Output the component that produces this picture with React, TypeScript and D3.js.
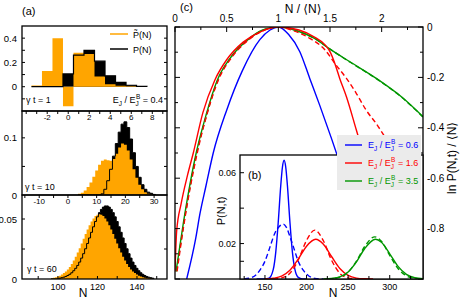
import React from 'react';
import * as d3 from 'd3';

const FONT = "'Liberation Sans', Arial, Helvetica, sans-serif";
const ORANGE = '#ffa500';
const BLUE = '#0000ff';
const RED = '#ff0000';
const GREEN = '#009600';

// ---------- panel (a): gamma t = 1 ----------
const a1N = [-3, -2, -1, 0, 1, 2, 3, 4, 5, 6, 7];
const a1Ptilde = [0.01, 0.13, 0.40, -0.16, 0.28, 0.27, 0.085, 0.02, 0.008, 0.003, 0];
const a1P = [0, 0, 0, 0.105, 0.26, 0.30, 0.21, 0.09, 0.036, 0.012, 0.003];

// ---------- panel (a): gamma t = 10 ----------
const a2N = [4, 5, 6, 7, 8, 9, 10, 11, 12, 13, 14, 15, 16, 17, 18, 19, 20, 21, 22, 23, 24, 25, 26, 27, 28, 29, 30];
const a2Ptilde = [0.002, 0.004, 0.008, 0.014, 0.022, 0.032, 0.043, 0.053, 0.060, 0.062, 0.061, 0.060, 0.063, 0.072, 0.083, 0.090, 0.088, 0.078, 0.062, 0.045, 0.030, 0.018, 0.010, 0.005, 0.002, 0.001, 0];
const a2P = [0, 0, 0, 0, 0, 0, 0, 0, 0.002, 0.010, 0.025, 0.045, 0.068, 0.090, 0.110, 0.124, 0.128, 0.118, 0.098, 0.074, 0.050, 0.031, 0.018, 0.010, 0.005, 0.003, 0.001];

// ---------- panel (a): gamma t = 60 ----------
const a3N = d3.range(97, 149);
const a3Ptilde = [0.0007, 0.0011, 0.0015, 0.0020, 0.0028, 0.0037, 0.0049, 0.0063, 0.0080, 0.0101, 0.0126, 0.0154, 0.0185, 0.0220, 0.0257, 0.0296, 0.0336, 0.0375, 0.0413, 0.0448, 0.0480, 0.0505, 0.0524, 0.0536, 0.0540,
  0.0536, 0.0524, 0.0505, 0.0480, 0.0448, 0.0413, 0.0375, 0.0336, 0.0296, 0.0257, 0.0220, 0.0185, 0.0154, 0.0126, 0.0101, 0.0080, 0.0063, 0.0049, 0.0037, 0.0028, 0.0020, 0.0015, 0.0011, 0.0007, 0.0005, 0.0003, 0.0002];
const a3P = [0, 0, 0, 0, 0.0007, 0.0011, 0.0015, 0.0021, 0.0029, 0.0039, 0.0052, 0.0069, 0.0089, 0.0113, 0.0141, 0.0174, 0.0211, 0.0252, 0.0296, 0.0342, 0.0389, 0.0435, 0.0479, 0.0518, 0.0553, 0.058, 0.0599, 0.0609,
  0.0609, 0.0599, 0.058, 0.0553, 0.0518, 0.0479, 0.0435, 0.0389, 0.0342, 0.0296, 0.0252, 0.0211, 0.0174, 0.0141, 0.0113, 0.0089, 0.0069, 0.0052, 0.0039, 0.0029, 0.0021, 0.0015, 0.0011, 0.0007];

// ---------- panel (c): ln P / <N> vs N/<N> ----------
const cBlueX = [0.113, 0.2, 0.242, 0.3, 0.37, 0.5, 0.65, 0.821, 0.92, 1.0, 1.1, 1.208, 1.304, 1.4, 1.514, 1.62, 1.75];
const cBlueY = [-1.0, -0.84, -0.74, -0.63, -0.5, -0.33, -0.175, -0.05, -0.012, 0, -0.03, -0.098, -0.204, -0.31, -0.442, -0.57, -0.73];
const cRedX = [0.0, 0.016, 0.06, 0.12, 0.177, 0.27, 0.386, 0.5, 0.66, 0.82, 1.0, 1.2, 1.35, 1.45, 1.5, 1.546, 1.594, 1.659, 1.755, 1.82];
const cRedY = [-0.97, -0.81, -0.70, -0.59, -0.50, -0.34, -0.21, -0.13, -0.06, -0.02, 0, -0.012, -0.04, -0.07, -0.098, -0.144, -0.204, -0.277, -0.409, -0.5];
const cRedDashX = [0.02, 0.08, 0.215, 0.3, 0.42, 0.55, 0.7, 0.85, 1.0, 1.15, 1.304, 1.45, 1.546, 1.659, 1.75, 1.85, 1.95, 2.03, 2.1];
const cRedDashY = [-0.97, -0.8, -0.5, -0.36, -0.21, -0.12, -0.055, -0.015, 0, -0.015, -0.045, -0.09, -0.144, -0.204, -0.26, -0.33, -0.385, -0.435, -0.48];
const cGreenX = [0.01, 0.08, 0.205, 0.3, 0.41, 0.55, 0.7, 0.85, 1.0, 1.2, 1.35, 1.5, 1.7, 1.948, 2.2, 2.4];
const cGreenY = [-0.97, -0.78, -0.5, -0.35, -0.21, -0.115, -0.052, -0.012, 0, -0.018, -0.045, -0.088, -0.14, -0.204, -0.28, -0.356];
const cGreenDashX = [0.015, 0.085, 0.21, 0.305, 0.415, 0.55, 0.7, 0.85, 1.0, 1.2, 1.35, 1.5, 1.7, 1.948, 2.2, 2.4];
const cGreenDashY = [-0.97, -0.78, -0.5, -0.35, -0.21, -0.116, -0.053, -0.013, 0, -0.018, -0.045, -0.088, -0.141, -0.205, -0.281, -0.357];

// ---------- inset (b): P(N,t) vs N ----------
const bBlueN = [140, 150, 155, 160, 163, 166, 169, 171, 173, 175, 177, 180, 183, 186, 190, 195, 200];
const bBlueP = [0, 0, 0.0005, 0.0054, 0.0152, 0.0323, 0.0528, 0.0631, 0.067, 0.0631, 0.0528, 0.0323, 0.0152, 0.0054, 0.0009, 0, 0];
const bBlueDashN = [125, 135, 144, 150, 156, 162, 168, 172, 176, 180, 185, 190, 196, 202, 210, 220];
const bBlueDashP = [0, 0.001, 0.005, 0.010, 0.018, 0.026, 0.030, 0.031, 0.029, 0.024, 0.017, 0.010, 0.005, 0.002, 0.0003, 0];
const bRedN = [150, 160, 170, 180, 190, 200, 211, 220, 230, 240, 250, 260, 270, 280];
const bRedP = [0, 0.0004, 0.0016, 0.0049, 0.0112, 0.0185, 0.0224, 0.0197, 0.0127, 0.0059, 0.0020, 0.0005, 0.0001, 0];
const bRedDashN = [160, 170, 180, 190, 200, 210, 220, 230, 240, 250, 260];
const bRedDashP = [0, 0.0006, 0.0032, 0.0107, 0.0218, 0.0276, 0.0218, 0.0107, 0.0032, 0.0006, 0];
const bGreenN = [220, 230, 240, 250, 260, 270, 283, 290, 300, 310, 320, 330, 340];
const bGreenP = [0, 0.0003, 0.0012, 0.0040, 0.0097, 0.0172, 0.0224, 0.0207, 0.0142, 0.0071, 0.0026, 0.0007, 0.0001];
const bGreenDashN = [225, 240, 250, 260, 270, 282, 290, 300, 310, 320, 330, 340];
const bGreenDashP = [0, 0.0010, 0.0039, 0.0101, 0.0184, 0.0238, 0.0213, 0.0134, 0.0059, 0.0018, 0.0004, 0.0001];

const legendLabels = ['0.6', '1.6', '3.5'];
const legendColors = [BLUE, RED, GREEN];

function histPaths(N: number[], V: number[], sx: any, sy: any) {
  const pts: [number, number][] = [[N[0] - 0.5, 0]];
  N.forEach((n, i) => {
    pts.push([n - 0.5, V[i]]);
    pts.push([n + 0.5, V[i]]);
  });
  pts.push([N[N.length - 1] + 0.5, 0]);
  const area = d3.area<[number, number]>().x(d => sx(d[0])).y0(sy(0)).y1(d => sy(d[1]))(pts) || '';
  const line = d3.line<[number, number]>().x(d => sx(d[0])).y(d => sy(d[1]))(pts) || '';
  return { area, line };
}

function curve(xs: number[], ys: number[], sx: any, sy: any) {
  const pts = xs.map((x, i) => [x, ys[i]] as [number, number]);
  return d3.line<[number, number]>().x(d => sx(d[0])).y(d => sy(d[1])).curve(d3.curveMonotoneX)(pts) || '';
}

function EJ({ x, y, val, color, size, anchor }: any) {
  const s = size * 0.72;
  return (
    <text x={x} y={y} fill={color} fontSize={size} fontFamily={FONT} textAnchor={anchor || 'start'}>
      {'E'}
      <tspan dy={2.5} fontSize={s}>J</tspan>
      <tspan dy={-2.5}>{' / E'}</tspan>
      <tspan dy={2.5} fontSize={s}>J</tspan>
      <tspan dx={-s * 0.45} dy={-7} fontSize={s}>B</tspan>
      <tspan dy={4.5}>{' = ' + val}</tspan>
    </text>
  );
}

const AB = "'DejaVu Sans', sans-serif";

export default function App() {
  const aL = 22, aR = 167;
  const a1T = 26, a1B = 111, a2B = 195, a3B = 279;
  const sx1 = d3.scaleLinear([-4.4, 9.4], [aL, aR]);
  const sy1 = d3.scaleLinear([-0.2, 0.5], [a1B, a1T]);
  const sx2 = d3.scaleLinear([-16, 34.5], [aL, aR]);
  const sy2 = d3.scaleLinear([0, 0.147], [a2B, a1B]);
  const sx3 = d3.scaleLinear([81.8, 155.2], [aL, aR]);
  const sy3 = d3.scaleLinear([0, 0.07], [a3B, a2B]);

  const h1t = histPaths(a1N, a1Ptilde, sx1, sy1);
  const h1 = histPaths(a1N, a1P, sx1, sy1);
  const h2t = histPaths(a2N, a2Ptilde, sx2, sy2);
  const h2 = histPaths(a2N, a2P, sx2, sy2);
  const h3t = histPaths(a3N, a3Ptilde, sx3, sy3);
  const h3 = histPaths(a3N, a3P, sx3, sy3);

  // panel c
  const cL = 175, cR = 423, cT = 27, cB = 279;
  const sxc = d3.scaleLinear([0, 2.4], [cL, cR]);
  const syc = d3.scaleLinear([-1, 0], [cB, cT]);
  // inset b
  const bL = 240, bT = 155;
  const sxb = d3.scaleLinear([120, 340], [bL, cR]);
  const syb = d3.scaleLinear([0, 0.07], [cB, bT]);

  const tickStroke = { stroke: '#000', strokeWidth: 1 };

  const yTicksA = (sy: any, vals: number[], len = 3) =>
    vals.map((v, i) => (
      <g key={i}>
        <line x1={aL} x2={aL + len} y1={sy(v)} y2={sy(v)} {...tickStroke} />
        <line x1={aR} x2={aR - len} y1={sy(v)} y2={sy(v)} {...tickStroke} />
      </g>
    ));
  const xTicksA = (sx: any, y: number, vals: number[], dir: number, len = 3) =>
    vals.map((v, i) => <line key={i} x1={sx(v)} x2={sx(v)} y1={y} y2={y + dir * len} {...tickStroke} />);

  return (
    <svg width={463} height={300} style={{ position: 'absolute', left: 0, top: 0 }} fontFamily={FONT}>
      <rect x={0} y={0} width={463} height={300} fill="#fff" />
      <defs>
        <clipPath id="c1"><rect x={aL} y={a1T} width={aR - aL} height={a1B - a1T} /></clipPath>
        <clipPath id="c2"><rect x={aL} y={a1B} width={aR - aL} height={a2B - a1B} /></clipPath>
        <clipPath id="c3"><rect x={aL} y={a2B} width={aR - aL} height={a3B - a2B} /></clipPath>
        <clipPath id="cc"><rect x={cL} y={cT} width={cR - cL} height={cB - cT} /></clipPath>
        <clipPath id="cb"><rect x={bL} y={bT} width={cR - bL} height={cB - bT} /></clipPath>
      </defs>

      {/* ---------------- panel (a) ---------------- */}
      <text x={22} y={15} fontSize={11}>(a)</text>

      <g clipPath="url(#c1)">
        <path d={h1.area} fill="#000" />
        <path d={h1t.area} fill={ORANGE} />
        <path d={h1.line} fill="none" stroke="#000" strokeWidth={1.2} />
      </g>
      <g clipPath="url(#c2)">
        <path d={h2.area} fill="#000" />
        <path d={h2t.area} fill={ORANGE} />
        <path d={h2.line} fill="none" stroke="#000" strokeWidth={1} />
      </g>
      <g clipPath="url(#c3)">
        <path d={h3.area} fill="#000" />
        <path d={h3t.area} fill={ORANGE} />
        <path d={h3.line} fill="none" stroke="#000" strokeWidth={1} />
      </g>

      {yTicksA(sy1, [-0.1, 0, 0.1, 0.2, 0.3, 0.4])}
      {yTicksA(sy2, [0.05, 0.1])}
      {yTicksA(sy3, [0.025, 0.05])}
      {xTicksA(sx1, a1B, d3.range(-4, 10), 1)}
      {xTicksA(sx2, a2B, d3.range(-15, 35, 5), 1)}
      {xTicksA(sx3, a3B, d3.range(90, 160, 10), -1)}

      <rect x={aL} y={a1T} width={aR - aL} height={a1B - a1T} fill="none" stroke="#000" strokeWidth={1.3} />
      <rect x={aL} y={a1B} width={aR - aL} height={a2B - a1B} fill="none" stroke="#000" strokeWidth={1.3} />
      <rect x={aL} y={a2B} width={aR - aL} height={a3B - a2B} fill="none" stroke="#000" strokeWidth={1.3} />

      {[0, 0.2, 0.4].map(v => (
        <text key={v} x={17} y={sy1(v) + 3.5} fontSize={9.5} textAnchor="end">{v === 0 ? '0' : String(v)}</text>
      ))}
      {[0, 0.1].map(v => (
        <text key={v} x={17} y={sy2(v) + 3.5} fontSize={9.5} textAnchor="end">{v === 0 ? '0' : String(v)}</text>
      ))}
      {[0, 0.05].map(v => (
        <text key={v} x={17} y={sy3(v) + 3.5} fontSize={9.5} textAnchor="end">{v === 0 ? '0' : String(v)}</text>
      ))}
      {[-2, 0, 2, 4, 6, 8].map(v => (
        <text key={v} x={sx1(v)} y={120} fontSize={8} textAnchor="middle">{String(v)}</text>
      ))}
      {[-10, 0, 10, 20, 30].map(v => (
        <text key={v} x={sx2(v)} y={204} fontSize={8} textAnchor="middle">{String(v)}</text>
      ))}
      {[100, 120, 140].map(v => (
        <text key={v} x={sx3(v)} y={290} fontSize={9} textAnchor="middle">{String(v)}</text>
      ))}
      <text x={83} y={297} fontSize={12} textAnchor="middle">N</text>

      <line x1={110} x2={128} y1={34} y2={34} stroke={ORANGE} strokeWidth={1.5} />
      <text x={133} y={37.5} fontSize={9}>P̃(N)</text>
      <line x1={110} x2={128} y1={49} y2={49} stroke="#000" strokeWidth={1.5} />
      <text x={133} y={52.5} fontSize={9}>P(N)</text>

      <text x={26} y={103} fontSize={9}>γ t = 1</text>
      <EJ x={163} y={103} val="0.4" color="#000" size={9} anchor="end" />
      <text x={25} y={190} fontSize={9}>γ t = 10</text>
      <text x={27} y={272} fontSize={9}>γ t = 60</text>

      {/* ---------------- panel (c) ---------------- */}
      <g clipPath="url(#cc)" fill="none" strokeWidth={1.4}>
        <path d={curve(cBlueX, cBlueY, sxc, syc)} stroke={BLUE} />
        <path d={curve(cGreenDashX, cGreenDashY, sxc, syc)} stroke={GREEN} strokeDasharray="5,3" />
        <path d={curve(cGreenX, cGreenY, sxc, syc)} stroke={GREEN} />
        <path d={curve(cRedDashX, cRedDashY, sxc, syc)} stroke={RED} strokeDasharray="5,3" />
        <path d={curve(cRedX, cRedY, sxc, syc)} stroke={RED} />
      </g>

      {d3.range(0, 2.41, 0.25).map((v, i) => (
        <line key={'tt' + i} x1={sxc(v)} x2={sxc(v)} y1={cT} y2={cT + (i % 2 === 0 ? 5 : 3)} {...tickStroke} />
      ))}
      {d3.range(0, 11).map(i => {
        const v = -i / 10;
        const len = i % 2 === 0 ? 5 : 3;
        return (
          <g key={'yt' + i}>
            <line x1={cL} x2={cL + len} y1={syc(v)} y2={syc(v)} {...tickStroke} />
            <line x1={cR} x2={cR - len} y1={syc(v)} y2={syc(v)} {...tickStroke} />
          </g>
        );
      })}
      <rect x={cL} y={cT} width={cR - cL} height={cB - cT} fill="none" stroke="#000" strokeWidth={1.3} />
      {[0, 0.5, 1, 1.5, 2].map(v => (
        <text key={v} x={sxc(v)} y={22} fontSize={10} textAnchor="middle">{String(v)}</text>
      ))}
      {[0, -0.2, -0.4, -0.6, -0.8].map(v => (
        <text key={v} x={427} y={syc(v) + 3.5} fontSize={10}>{v === 0 ? '0' : String(v)}</text>
      ))}
      <text x={180} y={11} fontSize={11}>(c)</text>
      <text x={303} y={13} fontSize={12} textAnchor="middle">
        {'N / '}<tspan fontFamily={AB}>⟨</tspan>N<tspan fontFamily={AB}>⟩</tspan>
      </text>
      <text transform={`translate(456,${158}) rotate(-90)`} fontSize={12} textAnchor="middle">
        {'ln P(N,t) / '}<tspan fontFamily={AB}>⟨</tspan>N<tspan fontFamily={AB}>⟩</tspan>
      </text>

      {/* ---------------- inset (b) ---------------- */}
      <rect x={bL} y={bT} width={cR - bL} height={cB - bT} fill="#fff" />
      <g clipPath="url(#cb)" fill="none" strokeWidth={1.4}>
        <path d={curve(bBlueDashN, bBlueDashP, sxb, syb)} stroke={BLUE} strokeDasharray="5,3" />
        <path d={curve(bBlueN, bBlueP, sxb, syb)} stroke={BLUE} />
        <path d={curve(bRedDashN, bRedDashP, sxb, syb)} stroke={RED} strokeDasharray="5,3" />
        <path d={curve(bRedN, bRedP, sxb, syb)} stroke={RED} />
        <path d={curve(bGreenDashN, bGreenDashP, sxb, syb)} stroke={GREEN} strokeDasharray="5,3" />
        <path d={curve(bGreenN, bGreenP, sxb, syb)} stroke={GREEN} />
      </g>
      {d3.range(125, 340, 25).map((v, i) => (
        <line key={'bx' + i} x1={sxb(v)} x2={sxb(v)} y1={cB} y2={cB - (v % 50 === 0 ? 4 : 3)} {...tickStroke} />
      ))}
      {[0.01, 0.02, 0.04, 0.06].map((v, i) => (
        <line key={'by' + i} x1={bL} x2={bL + 4} y1={syb(v)} y2={syb(v)} {...tickStroke} />
      ))}
      <rect x={bL} y={bT} width={cR - bL} height={cB - bT} fill="none" stroke="#000" strokeWidth={1.3} />
      {[0.02, 0.06].map(v => (
        <text key={v} x={236} y={syb(v) + 3.5} fontSize={9} textAnchor="end">{String(v)}</text>
      ))}
      {[150, 200, 250, 300].map(v => (
        <text key={v} x={sxb(v)} y={290} fontSize={9} textAnchor="middle">{String(v)}</text>
      ))}
      <text x={333} y={297} fontSize={12} textAnchor="middle">N</text>
      <text x={248} y={179} fontSize={11}>(b)</text>
      <text transform={`translate(225,${211}) rotate(-90)`} fontSize={11} textAnchor="middle">P(N,t)</text>

      <rect x={337} y={135} width={84} height={55} fill="#ebebeb" />
      {legendLabels.map((lab, i) => (
        <g key={lab}>
          <line x1={345} x2={362} y1={145 + i * 18} y2={145 + i * 18} stroke={legendColors[i]} strokeWidth={1.4} />
          <EJ x={368} y={148 + i * 18} val={lab} color={legendColors[i]} size={9} />
        </g>
      ))}
    </svg>
  );
}
